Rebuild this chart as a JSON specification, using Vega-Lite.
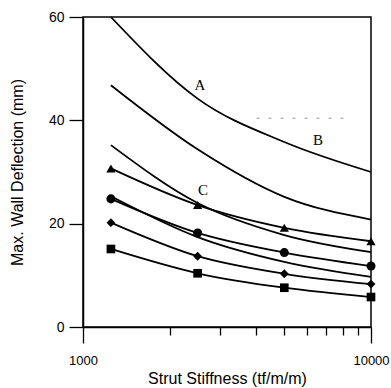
{
  "$schema": "https://vega.github.io/schema/vega-lite/v6.json",
  "width": 288,
  "height": 310,
  "autosize": "none",
  "padding": {"left": 83, "top": 17, "right": 20, "bottom": 61},
  "background": "white",
  "config": {
    "view": {"stroke": "black", "strokeWidth": 1.5},
    "axis": {
      "grid": false,
      "domainColor": "black",
      "domainWidth": 1.5,
      "tickColor": "black",
      "tickWidth": 1.3,
      "labelColor": "black",
      "titleColor": "black",
      "labelFont": "Liberation Sans",
      "titleFont": "Liberation Sans",
      "titleFontWeight": "normal"
    }
  },
  "datasets": {
    "curves": [
      {"series": "A", "x": 1250, "y": 60.0},
      {"series": "A", "x": 2500, "y": 44.2},
      {"series": "A", "x": 5000, "y": 35.8},
      {"series": "A", "x": 10000, "y": 30.0},
      {"series": "B", "x": 1250, "y": 46.8},
      {"series": "B", "x": 2500, "y": 34.4},
      {"series": "B", "x": 5000, "y": 25.2},
      {"series": "B", "x": 10000, "y": 20.8},
      {"series": "C", "x": 1250, "y": 35.2},
      {"series": "C", "x": 2500, "y": 24.0},
      {"series": "C", "x": 5000, "y": 17.8},
      {"series": "C", "x": 10000, "y": 14.5},
      {"series": "D", "x": 1250, "y": 25.3},
      {"series": "D", "x": 2500, "y": 17.4},
      {"series": "D", "x": 5000, "y": 12.6},
      {"series": "D", "x": 10000, "y": 9.7},
      {"series": "triangle", "x": 1250, "y": 30.7},
      {"series": "triangle", "x": 2500, "y": 23.6},
      {"series": "triangle", "x": 5000, "y": 19.2},
      {"series": "triangle", "x": 10000, "y": 16.6},
      {"series": "circle", "x": 1250, "y": 24.8},
      {"series": "circle", "x": 2500, "y": 18.2},
      {"series": "circle", "x": 5000, "y": 14.4},
      {"series": "circle", "x": 10000, "y": 11.8},
      {"series": "diamond", "x": 1250, "y": 20.2},
      {"series": "diamond", "x": 2500, "y": 13.7},
      {"series": "diamond", "x": 5000, "y": 10.3},
      {"series": "diamond", "x": 10000, "y": 8.3},
      {"series": "square", "x": 1250, "y": 15.1},
      {"series": "square", "x": 2500, "y": 10.4},
      {"series": "square", "x": 5000, "y": 7.6},
      {"series": "square", "x": 10000, "y": 5.8}
    ],
    "labels": [
      {"text": "A", "x": 2547, "y": 46.8},
      {"text": "B", "x": 6545, "y": 36.2},
      {"text": "C", "x": 2610, "y": 26.5}
    ],
    "artifact": [
      {"x": 4000, "x2": 8500, "y": 40.4}
    ]
  },
  "layer": [
    {
      "data": {"name": "artifact"},
      "mark": {"type": "rule", "color": "#999999", "strokeDash": [3, 9], "strokeWidth": 1},
      "encoding": {
        "x": {"field": "x", "type": "quantitative", "scale": {"type": "log", "domain": [1000, 10000]}},
        "x2": {"field": "x2"},
        "y": {"field": "y", "type": "quantitative", "scale": {"domain": [0, 60]}}
      }
    },
    {
      "data": {"name": "curves"},
      "mark": {"type": "line", "color": "black", "strokeWidth": 1.8, "interpolate": "monotone"},
      "encoding": {
        "x": {
          "field": "x", "type": "quantitative",
          "scale": {"type": "log", "domain": [1000, 10000]},
          "axis": {
            "title": "Strut Stiffness (tf/m/m)",
            "titleFontSize": 16,
            "titlePadding": 3,
            "values": [1000, 2000, 3000, 4000, 5000, 6000, 7000, 8000, 9000, 10000],
            "format": "d",
            "labelExpr": "datum.value == 1000 || datum.value == 10000 ? datum.label : ''",
            "labelFontSize": 13,
            "labelPadding": 11,
            "labelFlush": false,
            "labelOverlap": false,
            "tickSize": {"condition": {"test": "datum.value == 1000 || datum.value == 10000", "value": 16}, "value": 8}
          }
        },
        "y": {
          "field": "y", "type": "quantitative",
          "scale": {"domain": [0, 60]},
          "axis": {
            "title": "Max. Wall Deflection (mm)",
            "titleFontSize": 16,
            "titlePadding": 23,
            "values": [0, 20, 40, 60],
            "labelFontSize": 14,
            "labelPadding": 5,
            "tickSize": 14
          }
        },
        "detail": {"field": "series", "type": "nominal"}
      }
    },
    {
      "data": {"name": "curves"},
      "transform": [{"filter": "indexof(['triangle','circle','diamond','square'], datum.series) >= 0"}],
      "mark": {"type": "point", "filled": true, "opacity": 1, "color": "black"},
      "encoding": {
        "x": {"field": "x", "type": "quantitative"},
        "y": {"field": "y", "type": "quantitative"},
        "shape": {
          "field": "series", "type": "nominal",
          "scale": {"domain": ["triangle", "circle", "diamond", "square"], "range": ["triangle-up", "circle", "diamond", "square"]},
          "legend": null
        },
        "size": {
          "field": "series", "type": "nominal",
          "scale": {"domain": ["triangle", "circle", "diamond", "square"], "range": [85, 75, 60, 60]},
          "legend": null
        }
      }
    },
    {
      "data": {"name": "labels"},
      "mark": {"type": "text", "font": "Liberation Serif", "fontSize": 15, "color": "black", "align": "center", "baseline": "middle"},
      "encoding": {
        "x": {"field": "x", "type": "quantitative"},
        "y": {"field": "y", "type": "quantitative"},
        "text": {"field": "text"}
      }
    }
  ]
}
